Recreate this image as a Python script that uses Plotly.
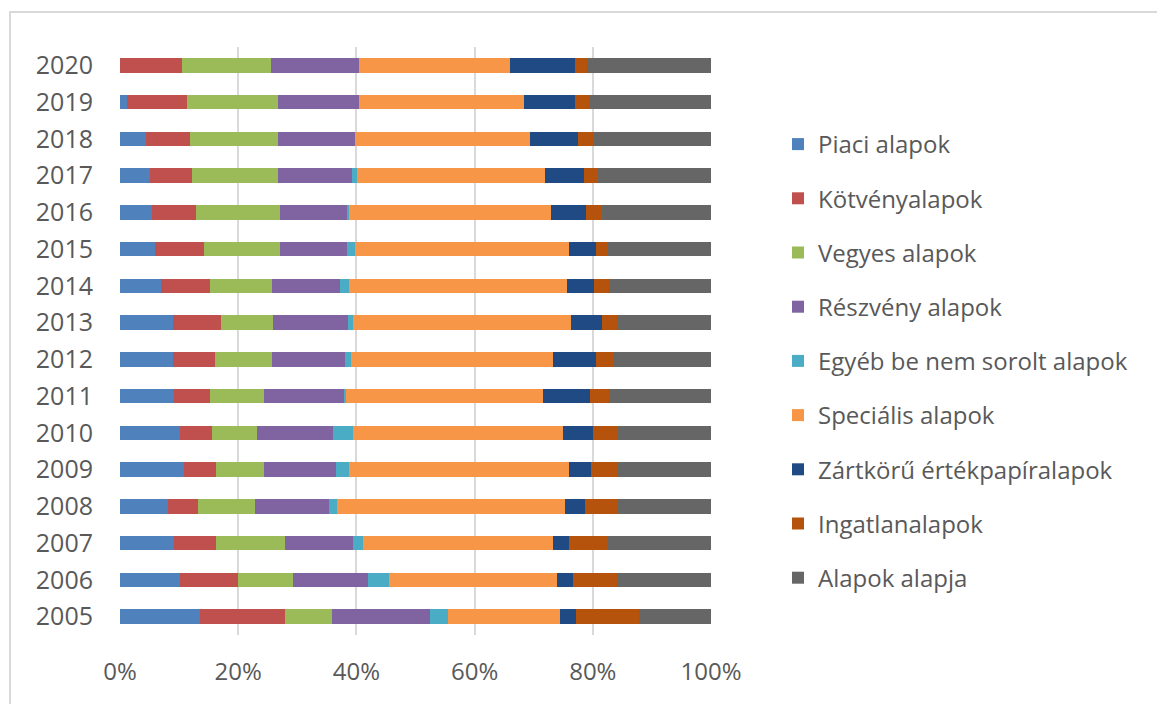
import plotly.graph_objects as go

years = [str(y) for y in range(2005, 2021)]

piaci     = [13.6, 10.2, 9.2, 8.2, 10.8, 10.2, 9.2, 8.9, 8.9, 6.9, 6.0, 5.4, 5.0, 4.4, 1.2, 0.0]
kotveny   = [14.4, 9.7, 7.1, 5.0, 5.5, 5.3, 6.1, 7.2, 8.2, 8.4, 8.2, 7.5, 7.2, 7.5, 10.1, 10.5]
vegyes    = [7.9, 9.4, 11.7, 9.7, 8.1, 7.6, 9.1, 9.6, 8.8, 10.5, 12.9, 14.2, 14.5, 14.8, 15.4, 15.1]
reszveny  = [16.6, 12.7, 11.5, 12.4, 12.2, 12.9, 13.6, 12.4, 12.7, 11.5, 11.3, 11.4, 12.6, 13.0, 13.8, 14.9]
egyeb     = [3.0, 3.5, 1.7, 1.4, 2.1, 3.4, 0.2, 1.0, 0.8, 1.4, 1.4, 0.3, 0.8, 0.0, 0.0, 0.0]
specialis = [18.9, 28.4, 32.0, 38.6, 37.3, 35.6, 33.4, 34.2, 36.9, 37.0, 36.2, 34.1, 31.8, 29.7, 27.9, 25.5]
zartkoru  = [2.7, 2.8, 2.8, 3.4, 3.7, 5.1, 7.9, 7.2, 5.2, 4.5, 4.5, 5.9, 6.6, 8.1, 8.6, 11.0]
ingatlan  = [10.7, 7.4, 6.6, 5.5, 4.5, 4.1, 3.3, 2.9, 2.6, 2.6, 2.1, 2.8, 2.3, 2.7, 2.4, 2.0]
alapok    = [12.2, 15.9, 17.4, 15.8, 15.8, 15.8, 17.2, 16.6, 15.9, 17.2, 17.4, 18.4, 19.2, 19.8, 20.6, 21.0]

series_names = ["Piaci alapok", "Kötvényalapok", "Vegyes alapok", "Részvény alapok",
                "Egyéb be nem sorolt alapok", "Speciális alapok",
                "Zártkörű értékpapíralapok", "Ingatlanalapok", "Alapok alapja"]
series_values = [piaci, kotveny, vegyes, reszveny, egyeb, specialis, zartkoru, ingatlan, alapok]
series_colors = ["#4F81BD", "#C0504D", "#9BBB59", "#8064A2", "#4BACC6",
                 "#F79646", "#1F4A84", "#B5520C", "#666666"]

x_tick_values = [0, 20, 40, 60, 80, 100]
x_tick_labels = ["0%", "20%", "40%", "60%", "80%", "100%"]

fig = go.Figure()
for name, vals, col in zip(series_names, series_values, series_colors):
    fig.add_trace(go.Bar(
        y=years, x=vals, name=name, orientation="h",
        marker=dict(color=col, line=dict(width=0)),
        legendgroup=name,
    ))

# page body has an 8px default margin; figure is sized/placed to compensate
W, H = 1157, 696
L, R, T, B = 112, 454, 39, 69
plot_w = W - L - R
plot_h = H - T - B

font_family = "'Open Sans', Lato, sans-serif"
fig.update_layout(
    width=W, height=H,
    barmode="stack", barnorm="percent", bargap=0.6,
    paper_bgcolor="white", plot_bgcolor="white",
    margin=dict(l=L, r=R, t=T, b=B),
    font=dict(family=font_family, color="#595959", size=24),
    xaxis=dict(range=[0, 100], tickmode="array", tickvals=x_tick_values, ticktext=x_tick_labels,
               showgrid=True, gridcolor="#D9D9D9", gridwidth=1.5,
               zeroline=False, showline=False, ticks="",
               ticklabelstandoff=20,
               tickfont=dict(size=24, color="#595959")),
    yaxis=dict(type="category", categoryorder="array", categoryarray=years,
               showgrid=False, showline=False, ticks="",
               ticklabelstandoff=26,
               tickfont=dict(size=25, color="#595959")),
    legend=dict(x=(770 - L) / plot_w, xanchor="left",
                y=(H - B - 114) / plot_h, yanchor="top",
                font=dict(size=24, color="#595959"),
                tracegroupgap=20, traceorder="grouped",
                bgcolor="rgba(0,0,0,0)"),
    shapes=[dict(type="rect", xref="paper", yref="paper",
                 x0=(2 - L) / plot_w, x1=2.0, y0=-0.3, y1=(H - B - 4) / plot_h,
                 line=dict(color="#D9D9D9", width=2), layer="below")],
)

fig.write_html("out.html")
